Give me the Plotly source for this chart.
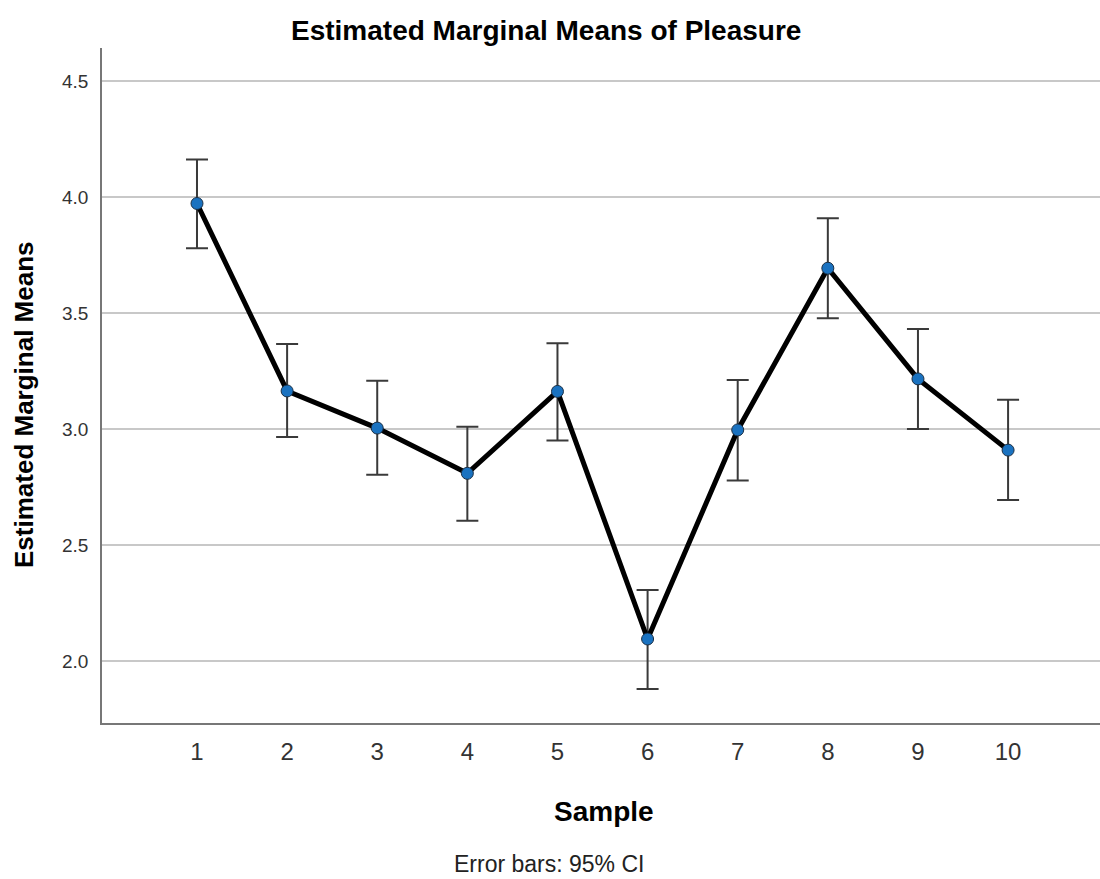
import plotly.graph_objects as go

# Estimated marginal means of Pleasure per sample, with 95% CI bounds
samples = [1, 2, 3, 4, 5, 6, 7, 8, 9, 10]
means = [3.972, 3.164, 3.004, 2.809, 3.162, 2.095, 2.996, 3.693, 3.216, 2.909]
ci_upper = [4.162, 3.366, 3.208, 3.010, 3.370, 2.306, 3.211, 3.908, 3.431, 3.126]
ci_lower = [3.779, 2.966, 2.803, 2.605, 2.950, 1.880, 2.778, 3.477, 3.000, 2.694]
y_ticks = [2.0, 2.5, 3.0, 3.5, 4.0, 4.5]

err_plus = [u - m for u, m in zip(ci_upper, means)]
err_minus = [m - l for m, l in zip(means, ci_lower)]

FONT = "Liberation Sans, Arial, sans-serif"
W, H = 1100, 879
ML, MR, MT, MB = 102, 0, 48, 156

fig = go.Figure()
fig.add_trace(go.Scatter(
    x=samples,
    y=means,
    mode="lines+markers",
    line=dict(color="black", width=5),
    marker=dict(size=12, color="#1a72c0", line=dict(color="#1b2f44", width=1)),
    error_y=dict(
        type="data",
        symmetric=False,
        array=err_plus,
        arrayminus=err_minus,
        color="#3a3a3a",
        thickness=2,
        width=11,
    ),
    showlegend=False,
))


def page_text(text, px, py, size, color="black", angle=0):
    """Text placed by page pixel position (from top-left corner)."""
    return dict(
        text=text,
        xref="paper", yref="paper",
        x=(px - ML) / (W - ML - MR),
        y=(H - py - MB) / (H - MT - MB),
        showarrow=False, textangle=angle,
        font=dict(size=size, color=color),
        xanchor="center", yanchor="middle",
    )


fig.update_layout(
    width=W,
    height=H,
    margin=dict(l=ML, r=MR, t=MT, b=MB),
    paper_bgcolor="white",
    plot_bgcolor="white",
    font=dict(family=FONT, color="#222"),
    xaxis=dict(
        range=[-0.054, 11.02],
        tickmode="array",
        tickvals=samples,
        ticktext=[str(s) for s in samples],
        tickfont=dict(size=24, color="#333"),
        showgrid=False,
        zeroline=False,
        showline=True,
        linecolor="#777",
        linewidth=1.5,
        ticks="",
        ticklabelstandoff=6,
    ),
    yaxis=dict(
        range=[1.733, 4.642],
        tickmode="array",
        tickvals=y_ticks,
        ticktext=[f"{v:.1f}" for v in y_ticks],
        tickfont=dict(size=19, color="#333"),
        showgrid=True,
        gridcolor="#c8c8c8",
        gridwidth=2,
        zeroline=False,
        showline=True,
        linecolor="#777",
        linewidth=1.5,
        ticks="",
        ticklabelstandoff=8,
    ),
    annotations=[
        page_text("<b>Estimated Marginal Means of Pleasure</b>", 546, 30, 28),
        page_text("<b>Estimated Marginal Means</b>", 24, 405, 26, angle=-90),
        page_text("<b>Sample</b>", 604, 811, 28),
        page_text("Error bars: 95% CI", 549, 864, 23, color="#222"),
    ],
)

fig.write_html("out.html")
